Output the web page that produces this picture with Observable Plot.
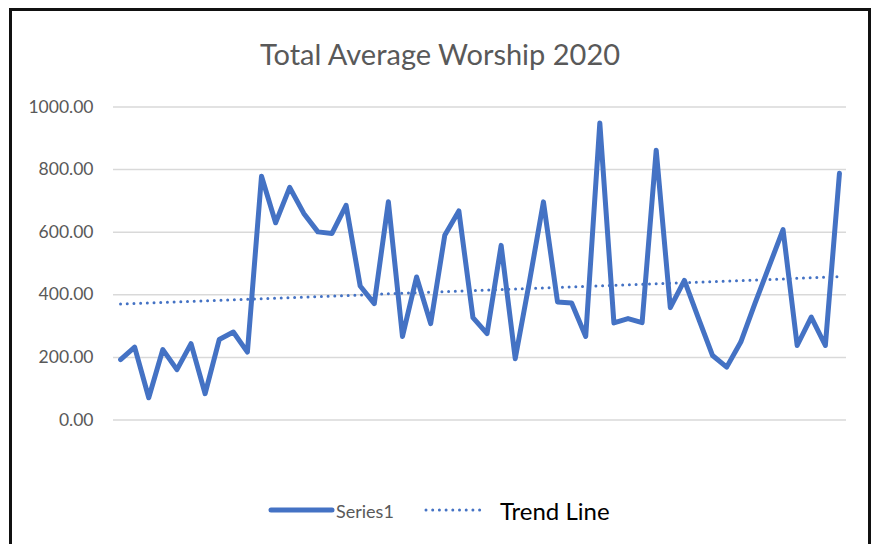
<!DOCTYPE html>
<html>
<head>
<meta charset="utf-8">
<script src="https://cdn.jsdelivr.net/npm/d3@7"></script>
<script src="https://cdn.jsdelivr.net/npm/@observablehq/plot@0.6"></script>
<style>
  html, body { margin: 0; padding: 0; background: #fff; }
  #wrap { position: relative; width: 873px; height: 544px; overflow: hidden; font-family: Lato, "Open Sans", sans-serif; }
  #frame { position: absolute; left: 9px; top: 8px; width: 856px; height: 560px; border: 3px solid #111; border-bottom: none; }
  #title { position: absolute; left: 0; width: 880px; top: 35px; text-align: center; font-size: 29px; color: #595959; line-height: 38px; }
  #legend { position: absolute; top: 496px; left: 0; width: 873px; height: 30px; }
  .lg { position: absolute; top: 0; line-height: 30px; white-space: nowrap; }
  #chart { position: absolute; left: 0; top: 0; }
</style>
</head>
<body>
<div id="wrap">
  <div id="frame"></div>
  <div id="chart"></div>
  <div id="title">Total Average Worship 2020</div>
  <div id="legend">
    <svg class="lg" style="left:268px;top:0" width="70" height="30"><line x1="3" x2="64" y1="14" y2="14" stroke="#4472C4" stroke-width="5" stroke-linecap="round"/></svg>
    <span class="lg" style="left:336px;font-size:18px;color:#595959;">Series1</span>
    <svg class="lg" style="left:424px;top:0" width="62" height="30"><line x1="2" x2="58" y1="14" y2="14" stroke="#4472C4" stroke-width="3" stroke-linecap="round" stroke-dasharray="0 6.7"/></svg>
    <span class="lg" style="left:500px;font-size:24px;color:#000;">Trend Line</span>
  </div>
</div>
<script>
const title = "Total Average Worship 2020";
const seriesName = "Series1";
const trendName = "Trend Line";
const yTicks = [0, 200, 400, 600, 800, 1000];
const values = [193, 233, 71, 225, 161, 244, 84, 257, 281, 217,
                779, 630, 743, 660, 601, 596, 686, 428, 372, 697,
                267, 457, 308, 590, 668, 327, 276, 558, 196, 440,
                697, 377, 374, 267, 949, 310, 324, 311, 862, 359,
                446, 325, 206, 169, 249, 372, 490, 608, 238, 329,
                238, 788];
const index = values.map((_, i) => i);

const data = values.map((v, i) => ({i, v}));
// linear regression trend (as Excel's linear trendline)
const n = values.length;
const mx = d3.mean(index), my = d3.mean(values);
const slope = d3.sum(index, i => (i - mx) * (values[i] - my)) / d3.sum(index, i => (i - mx) ** 2);
const intercept = my - slope * mx;
const trend = [0, n - 1].map(i => ({i, v: intercept + slope * i}));

const chart = Plot.plot({
  width: 873,
  height: 544,
  marginLeft: 113,
  marginRight: 27,
  marginTop: 106.5,
  marginBottom: 124.5,
  style: {background: "transparent", fontFamily: "Lato, 'Open Sans', sans-serif"},
  x: {domain: [-0.5, n - 0.5], axis: null},
  y: {domain: [0, 1000], axis: null},
  marks: [
    Plot.ruleY(yTicks, {stroke: "#d9d9d9", strokeWidth: 1.5, strokeOpacity: 1}),
    Plot.axisY({ticks: yTicks, tickSize: 0, tickPadding: 20, tickFormat: d => d.toFixed(2), fontSize: 17.5, fill: "#595959", label: null}),
    Plot.line(trend, {x: "i", y: "v", stroke: "#4472C4", strokeWidth: 3, strokeLinecap: "round", strokeDasharray: "0 6.7"}),
    Plot.line(data, {x: "i", y: "v", stroke: "#4472C4", strokeWidth: 5, strokeLinejoin: "round", strokeLinecap: "round"})
  ]
});
document.getElementById("chart").appendChild(chart);
</script>
</body>
</html>
